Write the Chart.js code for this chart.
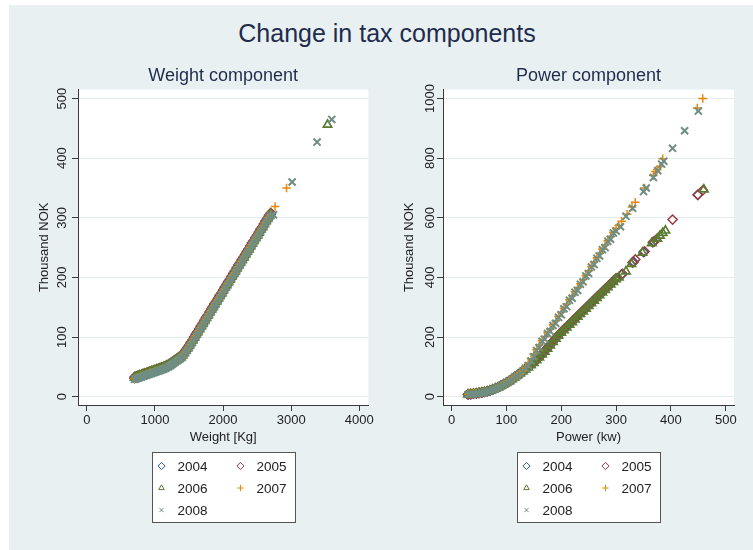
<!DOCTYPE html>
<html>
<head>
  <meta charset="utf-8">
  <title>Change in tax components</title>
  <script src="https://cdn.jsdelivr.net/npm/chart.js@4.4.1/dist/chart.umd.min.js"></script>
  <style>
    body { margin: 0; background: #fff; overflow: hidden; font-family: "Liberation Sans", Arial, sans-serif; }
    #graph { position: absolute; left: 9px; top: 5px; width: 744px; height: 545px; background: #e8f0f2; }
    #title { position: absolute; left: 0; top: 18px; width: 774px; text-align: center; font-size: 25px; line-height: 30px; color: #1f2c4c; }
    .panel { position: absolute; top: 0; width: 376px; height: 550px; }
  </style>
</head>
<body>
  <div id="graph"></div>
  <div id="title">Change in tax components</div>
  <div class="panel" style="left:0px"><canvas id="weightChart" width="376" height="550"></canvas></div>
  <div class="panel" style="left:365px"><canvas id="powerChart" width="376" height="550"></canvas></div>

<script>
// years and how each one is marked
var years = ['2004', '2005', '2006', '2007', '2008'];
var yearColors = ['#2a5a8a', '#9a3a42', '#5a7c32', '#e8870c', '#6e8e84'];
var markerStyles = ['rectRot', 'rectRot', 'triangle', 'cross', 'crossRot'];
var markerRadius = [4.6, 4.6, 4.8, 4.3, 5];
var markerLine = [1.5, 1.5, 1.7, 1.5, 2];

// weight component (thousand NOK) by curb weight
var weightKg = [700,725,750,775,800,825,850,875,900,925,
  950,975,1000,1025,1050,1075,1100,1125,1150,1175,
  1200,1225,1250,1275,1300,1325,1350,1375,1400,1425,
  1450,1475,1500,1525,1550,1575,1600,1625,1650,1675,
  1700,1725,1750,1775,1800,1825,1850,1875,1900,1925,
  1950,1975,2000,2025,2050,2075,2100,2125,2150,2175,
  2200,2225,2250,2275,2300,2325,2350,2375,2400,2425,
  2450,2475,2500,2525,2550,2575,2600,2625,2650,2675,2700];
var weightTax2004 = [31,32,33,34,35,36,37,38,39,40,
  41,42,43,44,45,46,47,48,49,51,
  52,54,56,58,60,62,64,66,68,72,
  76,80,84,89,93,98,103,107,112,117,
  121,126,131,135,140,145,149,154,158,163,
  168,172,177,182,186,191,195,200,205,209,
  214,219,223,228,232,237,242,246,251,256,
  260,265,269,274,279,283,288,293,297,302,306];
var weightTax2005 = [33,34,35,36,37,38,39,40,41,42,
  43,44,45,46,47,48,49,50,51,53,
  54,56,58,60,62,64,66,68,70,74,
  78,82,86,91,95,100,105,109,114,119,
  123,128,133,137,142,147,151,156,160,165,
  170,174,179,184,188,193,197,202,207,211,
  216,221,225,230,234,239,244,248,253,258,
  262,267,271,276,281,285,290,295,299,304,308];
var weightTax2006 = [32,33,34,35,36,37,38,39,40,41,
  42,43,44,45,46,47,48,49,50,52,
  53,55,57,59,61,63,65,67,69,73,
  77,81,85,90,94,99,104,108,113,118,
  122,127,132,136,141,146,150,155,159,164,
  169,173,178,183,187,192,196,201,206,210,
  215,220,224,229,233,238,243,247,252,257,
  261,266,270,275,280,284,289,294,298,303,306];
var weightTax2007 = [30,31,32,33,35,35,36,38,38,40,
  40,41,43,43,44,46,46,47,48,50,
  52,53,55,57,59,61,63,65,67,71,
  75,79,83,88,92,97,102,106,111,116,
  120,125,130,134,139,144,148,153,157,162,
  167,171,176,181,185,190,194,199,204,208,
  213,218,222,227,231,236,241,245,250,255,
  259,264,268,273,278,282,287,292,296,301,305];
var weightTax2008 = [29,30,31,32,33,34,35,36,37,38,
  39,40,41,42,43,44,45,46,47,49,
  50,52,54,56,58,60,62,64,66,70,
  74,78,82,87,91,96,101,105,110,115,
  119,124,129,133,138,143,147,152,156,161,
  166,170,175,180,184,189,193,198,203,207,
  212,217,221,226,230,235,240,244,249,254,
  258,263,267,272,277,281,286,291,295,300,304];
// heavy cars outside the main band
var weightExtraKg2006 = [3534];
var weightExtraTax2006 = [456];
var weightExtraKg2007 = [2764, 2932];
var weightExtraTax2007 = [319, 350];
var weightExtraKg2008 = [2740, 3014, 3380, 3596];
var weightExtraTax2008 = [305, 360, 427, 465];

// power component (thousand NOK) by engine power
var powerKw = [30,35,40,45,50,55,60,65,70,75,
  80,85,90,95,100,105,110,115,120,125,
  130,135,140,145,150,155,160,165,170,175,
  180,185,190,195,200,205,210,215,220,225,
  230,235,240,245,250,255,260,265,270,275,
  280,285,290,295,300];
var powerTax2004 = [7,8,10,11,12,14,16,18,20,24,
  27,32,36,41,47,52,58,65,72,79,
  86,93,100,107,115,123,133,142,152,163,
  174,185,195,206,216,225,234,243,252,261,
  270,279,288,297,306,314,324,333,342,351,
  360,369,378,387,396];
var powerTax2005 = [8,9,10,11,13,14,16,18,21,24,
  28,32,37,42,47,53,59,66,73,80,
  87,94,101,108,116,125,134,144,154,164,
  175,186,197,207,217,226,235,244,253,262,
  271,280,289,298,307,316,325,334,343,352,
  361,370,379,388,397];
var powerTax2006 = [7,8,9,10,12,13,15,17,20,23,
  27,31,36,41,46,51,58,64,71,78,
  85,91,98,105,113,122,131,141,151,161,
  172,183,194,204,214,223,232,241,250,259,
  268,277,286,295,304,313,322,331,340,349,
  358,367,376,385,394];
var powerTax2007 = [8,9,10,11,12,14,16,18,21,24,
  28,32,37,42,48,53,59,66,73,80,
  87,99,113,127,143,158,173,188,202,215,
  227,241,255,269,283,297,311,325,339,352,
  366,379,393,407,422,437,452,466,481,495,
  509,523,537,551,565];
var powerTax2008 = [7,8,9,10,11,13,15,17,19,23,
  26,31,35,40,46,51,57,64,70,77,
  84,95,104,120,134,155,165,186,193,212,
  219,239,246,266,275,295,302,323,330,350,
  356,377,385,405,413,435,443,464,472,493,
  500,521,528,549,556];
// the few most powerful models
var powerTailKw2004 = [310, 332, 350, 369, 449];
var powerTailTax2004 = [410, 452, 485, 520, 677];
var powerTailKw2005 = [312, 330, 335, 352, 367, 372, 403, 449, 458];
var powerTailTax2005 = [412, 450, 460, 487, 518, 525, 594, 677, 692];
var powerTailKw2006 = [305, 318, 328, 348, 365, 375, 380, 385, 390, 460];
var powerTailTax2006 = [400, 420, 445, 483, 515, 530, 540, 549, 557, 695];
var powerTailKw2007 = [305, 310, 320, 329, 335, 352, 368, 372, 375, 380, 385, 448, 458];
var powerTailTax2007 = [574, 588, 612, 636, 652, 700, 742, 755, 762, 772, 798, 968, 1000];
var powerTailKw2008 = [308, 318, 330, 350, 355, 368, 376, 383, 387, 403, 425, 450];
var powerTailTax2008 = [570, 605, 632, 688, 700, 735, 758, 780, 790, 833, 892, 958];

// axis ticks
var weightTicks = [0, 1000, 2000, 3000, 4000];
var weightTaxTicks = [0, 100, 200, 300, 400, 500];
var powerTicks = [0, 100, 200, 300, 400, 500];
var powerTaxTicks = [0, 200, 400, 600, 800, 1000];

function points(xs, ys) {
  return xs.map(function(x, i) { return {x: x, y: ys[i]}; });
}

Chart.defaults.font.family = '"Liberation Sans", Arial, sans-serif';
var axisColor = '#3a3a3a';
var textColor = '#222';

function makePanel(id, cfg) {
  var plotBg = {
    id: 'plotBg',
    beforeDraw: function(chart) {
      var a = chart.chartArea;
      chart.ctx.save();
      chart.ctx.fillStyle = '#fff';
      chart.ctx.fillRect(a.left, a.top, a.right - a.left, a.bottom - a.top);
      chart.ctx.restore();
    }
  };
  // vertical tick labels on the y axis
  var yLabels = {
    id: 'yLabels',
    afterDraw: function(chart) {
      var ctx = chart.ctx, s = chart.scales.y;
      ctx.save();
      ctx.font = '13px "Liberation Sans", Arial, sans-serif';
      ctx.fillStyle = textColor;
      ctx.textAlign = 'center';
      ctx.textBaseline = 'middle';
      cfg.yTicks.forEach(function(v) {
        ctx.save();
        ctx.translate(cfg.yLabelX, s.getPixelForValue(v));
        ctx.rotate(-Math.PI / 2);
        ctx.fillText(String(v), 0, 0);
        ctx.restore();
      });
      ctx.restore();
    }
  };
  // boxed two-column key under the plot
  var keyBox = {
    id: 'keyBox',
    afterDraw: function(chart) {
      var ctx = chart.ctx, a = chart.chartArea;
      var bx = Math.round((a.left + a.right) / 2 - 71.5) + 0.5, by = 452.5;
      ctx.save();
      ctx.fillStyle = '#fff';
      ctx.fillRect(bx, by, 143, 70);
      ctx.strokeStyle = '#555';
      ctx.lineWidth = 1;
      ctx.strokeRect(bx, by, 143, 70);
      ctx.font = '13.5px "Liberation Sans", Arial, sans-serif';
      ctx.textBaseline = 'middle';
      years.forEach(function(yr, i) {
        var col = i % 2, row = Math.floor(i / 2);
        var x = bx + 9 + col * 79, y = by + 13.5 + row * 22;
        ctx.fillStyle = 'rgba(0,0,0,0)';
        ctx.strokeStyle = yearColors[i];
        ctx.lineWidth = 1;
        Chart.helpers.drawPoint(ctx, {pointStyle: markerStyles[i], radius: [3.6, 3.6, 3.2, 3.2, 3][i], rotation: 0, borderWidth: 1}, x, y);
        ctx.fillStyle = textColor;
        ctx.fillText(yr, x + 16, y + 1);
      });
      ctx.restore();
    }
  };

  return new Chart(document.getElementById(id), {
    type: 'scatter',
    data: {
      datasets: cfg.series.map(function(s, i) {
        return {
          label: years[i],
          data: s,
          order: years.length - 1 - i,
          pointStyle: markerStyles[i],
          pointRadius: markerRadius[i],
          pointBorderWidth: markerLine[i],
          borderColor: yearColors[i],
          backgroundColor: 'rgba(0,0,0,0)'
        };
      })
    },
    options: {
      responsive: false,
      animation: false,
      events: [],
      layout: { padding: { left: 37, right: 3, top: 0, bottom: 105 } },
      plugins: {
        legend: { display: false },
        tooltip: { enabled: false },
        title: {
          display: true, text: cfg.subtitle, fullSize: false,
          font: { size: 18, weight: 'normal' }, color: '#1f2c4c',
          padding: { top: 65, bottom: 3 }
        }
      },
      scales: {
        x: {
          type: 'linear', min: cfg.xMin, max: cfg.xMax,
          afterBuildTicks: function(s) { s.ticks = cfg.xTicks.map(function(v) { return {value: v}; }); },
          afterFit: function(s) { s.height = 40; },
          grid: { drawOnChartArea: false, tickLength: 6, tickColor: axisColor },
          border: { color: axisColor, width: 1 },
          ticks: { font: { size: 13 }, color: textColor, padding: 2, maxRotation: 0, callback: function(v) { return String(v); } },
          title: { display: true, text: cfg.xTitle, font: { size: 13 }, color: textColor, padding: 0 }
        },
        y: {
          type: 'linear', min: cfg.yMin, max: cfg.yMax,
          afterBuildTicks: function(s) { s.ticks = cfg.yTicks.map(function(v) { return {value: v}; }); },
          afterFit: function(s) { s.width = 41; },
          grid: { color: '#e3ecef', lineWidth: 1, tickLength: 6, tickColor: axisColor },
          border: { color: axisColor, width: 1 },
          ticks: { display: false },
          title: { display: true, text: 'Thousand NOK', font: { size: 13 }, color: textColor, padding: 0 }
        }
      }
    },
    plugins: [plotBg, yLabels, keyBox]
  });
}

makePanel('weightChart', {
  subtitle: 'Weight component',
  xTitle: 'Weight [Kg]',
  xMin: -130, xMax: 4134, xTicks: weightTicks,
  yMin: -14, yMax: 515, yTicks: weightTaxTicks,
  yLabelX: 62,
  series: [
    points(weightKg, weightTax2004),
    points(weightKg, weightTax2005),
    points(weightKg, weightTax2006).concat(points(weightExtraKg2006, weightExtraTax2006)),
    points(weightKg, weightTax2007).concat(points(weightExtraKg2007, weightExtraTax2007)),
    points(weightKg, weightTax2008).concat(points(weightExtraKg2008, weightExtraTax2008))
  ]
});

makePanel('powerChart', {
  subtitle: 'Power component',
  xTitle: 'Power (kw)',
  xMin: -15.6, xMax: 515, xTicks: powerTicks,
  yMin: -28, yMax: 1030, yTicks: powerTaxTicks,
  yLabelX: 65,
  series: [
    points(powerKw, powerTax2004).concat(points(powerTailKw2004, powerTailTax2004)),
    points(powerKw, powerTax2005).concat(points(powerTailKw2005, powerTailTax2005)),
    points(powerKw, powerTax2006).concat(points(powerTailKw2006, powerTailTax2006)),
    points(powerKw, powerTax2007).concat(points(powerTailKw2007, powerTailTax2007)),
    points(powerKw, powerTax2008).concat(points(powerTailKw2008, powerTailTax2008))
  ]
});
</script>
</body>
</html>
